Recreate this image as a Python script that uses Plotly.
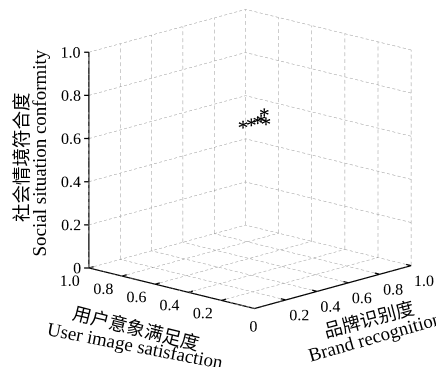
import plotly.graph_objects as go

# ---- data ----
brand_recognition = [0.93, 0.93, 0.95, 0.95, 0.96, 0.96]
user_image_satisfaction = [0.95, 0.90, 0.88, 0.86, 0.85, 0.84]
social_conformity = [0.49, 0.51, 0.52, 0.53, 0.56, 0.52]

tick_vals = [0, 0.2, 0.4, 0.6, 0.8, 1.0]
tick_text = ["0", "0.2", "0.4", "0.6", "0.8", "1.0"]

x_title_cn, x_title_en = "品牌识别度", "Brand recognition"
y_title_cn, y_title_en = "用户意象满足度", "User image satisfaction"
z_title_cn, z_title_en = "社会情境符合度", "Social situation conformity"

FONT = "Liberation Serif, Times New Roman, Noto Sans CJK SC, serif"

traces = []

# ---- dashed grid on the floor and the two back walls ----
DASH, PERIOD = 0.018, 0.032
gx, gy, gz = [], [], []
def dashed(a, b):
    n = int(1.0 / PERIOD) + 1
    for k in range(n):
        s0 = k * PERIOD
        if s0 >= 1.0:
            break
        s1 = min(s0 + DASH, 1.0)
        for s in (s0, s1):
            gx.append(a[0] + (b[0] - a[0]) * s)
            gy.append(a[1] + (b[1] - a[1]) * s)
            gz.append(a[2] + (b[2] - a[2]) * s)
        gx.append(None); gy.append(None); gz.append(None)

for t in tick_vals:
    dashed((t, 0, 0), (t, 1, 0)); dashed((0, t, 0), (1, t, 0))      # floor
    dashed((t, 1, 0), (t, 1, 1)); dashed((0, 1, t), (1, 1, t))      # wall y=1
    dashed((1, t, 0), (1, t, 1)); dashed((1, 0, t), (1, 1, t))      # wall x=1
traces.append(go.Scatter3d(x=gx, y=gy, z=gz, mode="lines",
                           line=dict(color="#999999", width=1),
                           hoverinfo="skip", showlegend=False))

# ---- axis lines and ticks ----
ax, ay, az = [], [], []
def aseg(a, b):
    ax.extend([a[0], b[0], None]); ay.extend([a[1], b[1], None]); az.extend([a[2], b[2], None])
aseg((0, 0, 0), (0, 1, 0))
aseg((0, 0, 0), (1, 0, 0))
aseg((0, 1, 0), (0, 1, 1))
for t in tick_vals:
    aseg((0, t, 0), (0.03, t, 0))
    aseg((t, 0, 0), (t, 0.03, 0))
    aseg((0, 1, t), (-0.015, 1.015, t))
traces.append(go.Scatter3d(x=ax, y=ay, z=az, mode="lines",
                           line=dict(color="black", width=2.5),
                           hoverinfo="skip", showlegend=False))

# ---- tick labels ----
lab_font = dict(family=FONT, size=16, color="black")
# z labels (centre-aligned; the single-digit "0" sits a little closer to the axis)
z_off = [0.037 if s == "0" else 0.056 for s in tick_text]
traces.append(go.Scatter3d(x=[-o for o in z_off], y=[1 + o for o in z_off], z=tick_vals,
                           mode="text", text=tick_text, textfont=lab_font,
                           textposition="middle center", hoverinfo="skip", showlegend=False))
traces.append(go.Scatter3d(x=[-0.12] * 5, y=tick_vals[1:], z=[-0.035] * 5,
                           mode="text", text=tick_text[1:], textfont=lab_font,
                           textposition="middle center", hoverinfo="skip", showlegend=False))
traces.append(go.Scatter3d(x=tick_vals[1:], y=[-0.08] * 5, z=[-0.055] * 5,
                           mode="text", text=tick_text[1:], textfont=lab_font,
                           textposition="middle center", hoverinfo="skip", showlegend=False))
traces.append(go.Scatter3d(x=[-0.05], y=[-0.04], z=[-0.065],
                           mode="text", text=[tick_text[0]], textfont=lab_font,
                           textposition="middle center", hoverinfo="skip", showlegend=False))

# ---- data points as asterisks ----
traces.append(go.Scatter3d(x=brand_recognition, y=user_image_satisfaction, z=social_conformity,
                           mode="text", text=["*"] * len(brand_recognition),
                           textfont=dict(family=FONT, size=22, color="black"),
                           textposition="middle center", showlegend=False))

fig = go.Figure(traces)

hidden = dict(visible=False, showbackground=False, showgrid=False, zeroline=False,
              showline=False, showticklabels=False, showspikes=False, title="")
xr, yr, zr = [-0.15, 1.08], [-0.16, 1.1], [-0.18, 1.01]
S = 1.325
eye_dir = (-0.702, -0.664, 0.259)
r = 2.0

def title(text, cx, cy, angle, size):
    return dict(text=text, x=cx / 444, y=1 - cy / 367, xref="paper", yref="paper",
                showarrow=False, textangle=angle, xanchor="center", yanchor="middle",
                font=dict(family=FONT, size=size, color="black"))

fig.update_layout(
    width=444, height=367,
    margin=dict(l=0, r=0, t=0, b=0),
    paper_bgcolor="white",
    scene=dict(
        domain=dict(x=[0.087, 1.0], y=[0.063, 1.0]),
        xaxis=dict(range=xr, **hidden),
        yaxis=dict(range=yr, **hidden),
        zaxis=dict(range=zr, **hidden),
        aspectmode="manual",
        aspectratio=dict(x=(xr[1] - xr[0]) * S, y=(yr[1] - yr[0]) * S, z=(zr[1] - zr[0]) * 0.98 * S),
        camera=dict(eye=dict(x=eye_dir[0] * r, y=eye_dir[1] * r, z=eye_dir[2] * r),
                    up=dict(x=0, y=0, z=1), center=dict(x=0, y=0, z=0),
                    projection=dict(type="orthographic")),
    ),
    annotations=[
        title(z_title_cn, 14, 149, -90, 18.5),
        title(z_title_en, 31.5, 145, -90, 19),
        title(y_title_cn, 128, 321, 14, 18.5),
        title(y_title_en, 127, 337, 11, 19),
        title(x_title_cn, 361, 312, -15, 18.5),
        title(x_title_en, 367, 328, -16, 19),
    ],
)

fig.write_html("out.html")
